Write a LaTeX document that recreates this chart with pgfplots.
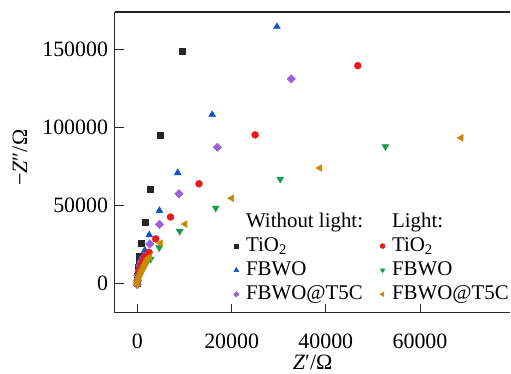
\documentclass[border=0pt]{standalone}
\usepackage{pgfplots}
\pgfplotsset{compat=1.18}
\usepackage{fontspec}
\setmainfont{Liberation Serif}
\definecolor{cblack}{HTML}{262626}
\definecolor{cblue}{HTML}{0A52CC}
\definecolor{cpurple}{HTML}{9E5FDB}
\definecolor{cred}{HTML}{EE1616}
\definecolor{cgreen}{HTML}{159A4E}
\definecolor{cgold}{HTML}{C88A00}
\begin{document}
\fontsize{20}{24}\selectfont
\begin{tikzpicture}
\begin{axis}[
  scale only axis, width=396bp, height=301bp,
  xmin=-4800, xmax=79200, ymin=-18800, ymax=174000,
  axis x line*=box, axis y line*=left,
  xtick={0,20000,40000,60000}, ytick={0,50000,100000,150000},
  xtick pos=bottom, ytick pos=left,
  tick align=inside, major tick length=9bp,
  scaled ticks=false,
  /pgf/number format/fixed,
  /pgf/number format/assume math mode=true,
  /pgf/number format/1000 sep={},
  tick label style={font=\fontsize{22}{26}\selectfont},
  xticklabel style={yshift=-14bp},
  every axis y label/.style={at={(axis description cs:-0.24,0.515)}, rotate=90, anchor=center, inner sep=0pt, font=\fontsize{22}{26}\selectfont},
  every axis x label/.style={at={(axis description cs:0.5,-0.165)}, anchor=center, inner sep=0pt, font=\fontsize{22}{26}\selectfont},
  axis line style={line width=1.2bp, black!85},
  tick style={line width=1bp, black!85},
  xlabel={\textit{Z}′/Ω},
  ylabel={−\textit{Z}″/Ω},
  legend columns=2,
  legend cell align=left,
  legend style={draw=none, fill=none, at={(axis description cs:0.285,0.339)}, anchor=north west,
    font=\fontsize{21}{25}\selectfont, inner sep=0pt, row sep=3.3bp,
    /tikz/every odd column/.append style={column sep=5bp},
    /tikz/every even column/.append style={column sep=9bp}},
]
\addplot[only marks, mark=square*, mark size=3bp, color=cblack, forget plot] coordinates {
(9545,148970) (4880,95000) (2760,60630) (1590,39370) (870,25740) (380,17090)
(280,13250) (170,10050) (60,6850) (20,4290) (-40,1730) (-40,-190)};
\addplot[only marks, mark=triangle*, mark size=4bp, color=cblue, forget plot] coordinates {
(29610,164530) (15870,108130) (8550,70870) (4670,46610) (2500,30990) (1550,21130)
(910,16450) (590,12610) (380,9410) (170,6210) (60,3010) (-40,-190)};
\addplot[only marks, mark=square*, mark size=3bp, mark options={rotate=45}, color=cpurple, forget plot] coordinates {
(32660,131050) (16970,87320) (8820,57430) (4670,37770) (2610,25220) (1340,16650)
(810,13890) (490,11330) (280,8130) (130,4930) (20,1730) (-40,-830)};
\addplot[only marks, mark=*, mark size=3.5bp, color=cred, forget plot] coordinates {
(46790,139560) (24990,95200) (13070,63830) (7020,42510) (3880,28490) (2460,19850)
(1550,17090) (1120,14530) (700,11330) (380,8130) (170,4930) (20,1730)};
\addplot[only marks, mark=triangle*, mark size=4bp, mark options={rotate=180}, color=cgreen, forget plot] coordinates {
(52660,87700) (30330,66840) (16610,48270) (8970,33420) (4620,22860) (2820,15620)
(1970,13250) (1340,10690) (810,7490) (380,4290) (60,1090)};
\addplot[only marks, mark=triangle*, mark size=4bp, mark options={rotate=90}, color=cgold, forget plot] coordinates {
(68720,93280) (38730,73940) (20000,54550) (10100,38030) (4900,25740) (2610,16900)
(2180,15810) (1970,14530) (1760,13250) (1550,11970) (1340,10690) (1120,9410)
(910,8130) (700,6850) (490,5570) (280,4290) (170,3010) (60,1730) (-40,450) (-150,-830)};
\addlegendimage{empty legend}\addlegendentry{Without light:}
\addlegendimage{empty legend}\addlegendentry{Light:}
\addlegendimage{only marks, mark=square*, mark size=2bp, color=cblack}\addlegendentry{TiO\textsubscript{2}}
\addlegendimage{only marks, mark=*, mark size=2.5bp, color=cred}\addlegendentry{TiO\textsubscript{2}}
\addlegendimage{only marks, mark=triangle*, mark size=2.8bp, color=cblue}\addlegendentry{FBWO}
\addlegendimage{only marks, mark=triangle*, mark size=2.8bp, mark options={rotate=180}, color=cgreen}\addlegendentry{FBWO}
\addlegendimage{only marks, mark=square*, mark size=2bp, mark options={rotate=45}, color=cpurple}\addlegendentry{FBWO@T5C}
\addlegendimage{only marks, mark=triangle*, mark size=2.8bp, mark options={rotate=90}, color=cgold}\addlegendentry{FBWO@T5C}
\coordinate (BL) at (rel axis cs:0,0);
\coordinate (TR) at (rel axis cs:1,1);
\end{axis}
\path (BL) ++(-115bp,-61bp) coordinate (A);
\path (TR) ++(0,12bp) coordinate (B);
\path (A) rectangle (B);
\end{tikzpicture}
\end{document}
